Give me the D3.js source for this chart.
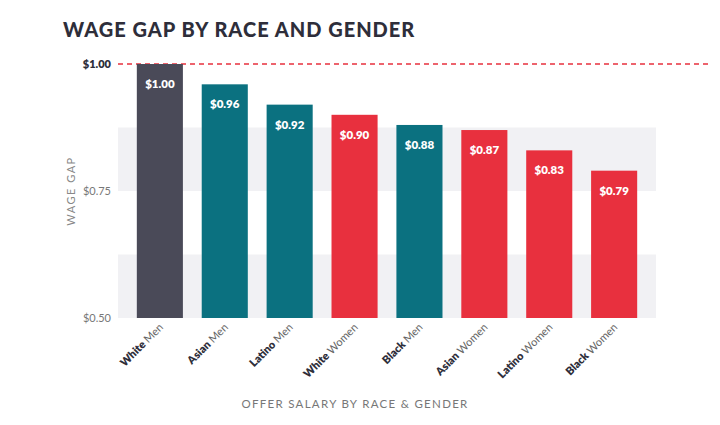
<!DOCTYPE html><html><head><meta charset="utf-8"><script src="https://cdn.jsdelivr.net/npm/d3@7"></script>
<style>body{margin:0;background:#fff;font-family:Lato,"Open Sans",sans-serif}</style></head><body><svg id="c" width="720" height="425"></svg>
<script>
const races=["White","Asian","Latino","White","Black","Asian","Latino","Black"];
const genders=["Men","Men","Men","Women","Men","Women","Women","Women"];
const values=[1.00,0.96,0.92,0.90,0.88,0.87,0.83,0.79];
const colors=["#4a4a58","#0b7180","#0b7180","#e8303e","#0b7180","#e8303e","#e8303e","#e8303e"];
const yTicks=[0.5,0.75,1.0];
const svg=d3.select("#c");
const x=d3.scaleBand().domain(d3.range(values.length)).range([118,656]).padding(0.29);
const y=d3.scaleLinear().domain([0.5,1.0]).range([318,64]);
[[0.75,0.875],[0.5,0.625]].forEach(b=>svg.append("rect").attr("x",118).attr("width",538).attr("y",y(b[1])).attr("height",y(b[0])-y(b[1])).attr("fill","#f1f1f4"));
svg.append("text").attr("x",63).attr("y",37).text("WAGE GAP BY RACE AND GENDER").attr("font-size",20).attr("font-weight",900).attr("fill","#2e2e3a").attr("letter-spacing",1);
svg.append("line").attr("x1",118).attr("x2",712).attr("y1",y(1)).attr("y2",y(1)).attr("stroke","#e8303e").attr("stroke-width",1.5).attr("stroke-dasharray","5,4");
yTicks.forEach(t=>svg.append("text").attr("x",111).attr("y",y(t)+4).attr("text-anchor","end").attr("font-size",11).attr("font-weight",t==1?800:400).attr("fill",t==1?"#2e2e3a":"#777").text("$"+t.toFixed(2)));
svg.append("text").attr("transform","translate(75,191) rotate(-90)").attr("text-anchor","middle").attr("font-size",11).attr("letter-spacing",1.5).attr("fill","#888").text("WAGE GAP");
const g=svg.selectAll(".b").data(values).enter().append("g");
g.append("rect").attr("x",(d,i)=>x(i)).attr("width",x.bandwidth()).attr("y",d=>y(d)).attr("height",d=>y(0.5)-y(d)).attr("fill",(d,i)=>colors[i]);
g.append("text").attr("x",(d,i)=>x(i)+x.bandwidth()/2).attr("y",d=>y(d)+24).attr("text-anchor","middle").attr("fill","#fff").attr("font-size",11.5).attr("font-weight",800).text(d=>"$"+d.toFixed(2));
values.forEach((d,i)=>{const t=svg.append("text").attr("transform",`translate(${x(i)+x.bandwidth()/2+4},${328}) rotate(-45)`).attr("text-anchor","end").attr("font-size",11).attr("fill","#2e2e3a");
t.append("tspan").attr("font-weight",800).text(races[i]+" ");t.append("tspan").attr("fill","#666").text(genders[i]);});
svg.append("text").attr("x",355).attr("y",408).attr("text-anchor","middle").attr("font-size",11.5).attr("letter-spacing",1.3).attr("fill","#777").text("OFFER SALARY BY RACE & GENDER");
</script></body></html>
